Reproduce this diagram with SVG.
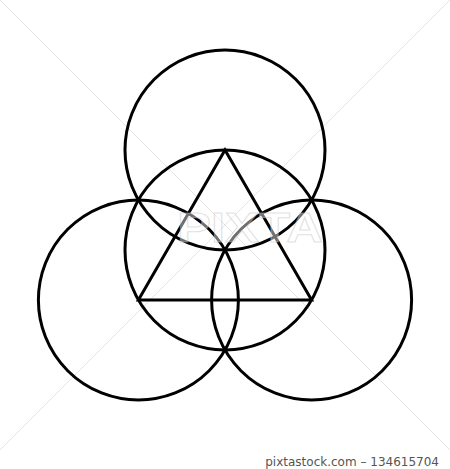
<svg xmlns="http://www.w3.org/2000/svg" width="450" height="469" viewBox="0 0 450 469">
<style>
.c{fill:none;stroke:#000;stroke-width:3}
.wm{stroke:#e6e6e6;stroke-width:1;fill:none}
.credit{font-family:"DejaVu Sans",sans-serif;font-size:12px;fill:#555}
.logo{font-family:"Liberation Sans",sans-serif;font-weight:bold;font-size:42px;fill:#fff;fill-opacity:0.45;stroke:#bbb;stroke-opacity:0.45;stroke-width:1}
</style>
<rect width="450" height="469" fill="#fff"/>
<g id="watermark-lines">
<line class="wm" x1="0" y1="0" x2="450" y2="450"/>
<line class="wm" x1="450" y1="0" x2="0" y2="450"/>
</g>
<g id="circle-top"><circle class="c" cx="225" cy="150" r="100"/></g>
<g id="circle-center"><circle class="c" cx="225" cy="250" r="100"/></g>
<g id="circle-left"><circle class="c" cx="138.4" cy="300" r="100"/></g>
<g id="circle-right"><circle class="c" cx="311.6" cy="300" r="100"/></g>
<g id="connectors"><polygon class="c" stroke-linejoin="miter" points="225,150 311.6,300 138.4,300"/></g>
<g id="watermark-text">
<text class="logo" x="177" y="242" textLength="146" lengthAdjust="spacingAndGlyphs">PIXTA</text>
<text class="credit" x="439" y="465.5" text-anchor="end">pixtastock.com – 134615704</text>
</g>
</svg>
